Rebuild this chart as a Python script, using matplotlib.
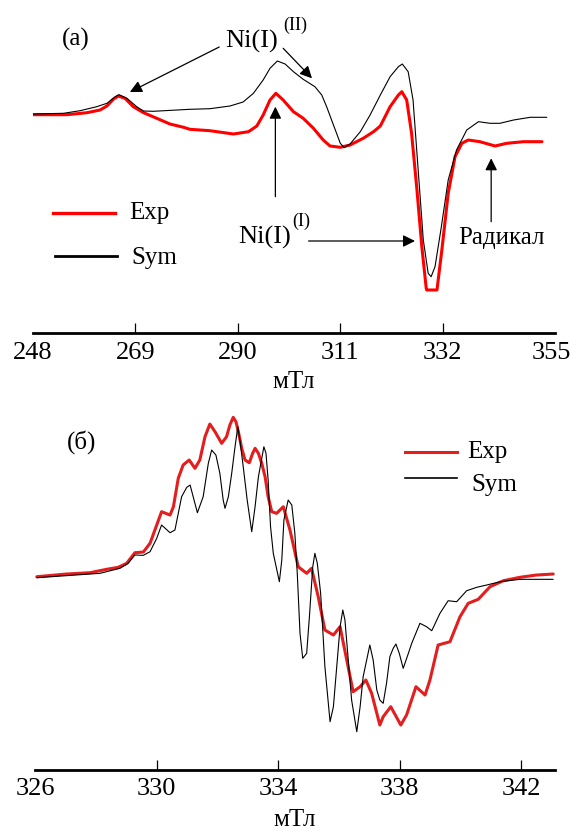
import matplotlib
matplotlib.use("Agg")
import matplotlib.pyplot as plt
from matplotlib.ticker import FixedLocator, FixedFormatter

plt.rcParams['font.family'] = ['Liberation Serif', 'DejaVu Serif']

# ---------------- panel (a) data ----------------
a_exp_B = [248.1, 255.0, 259.1, 261.8, 263.2, 264.5, 265.5, 266.9, 268.6, 270.7, 273.4, 276.1,
           278.9, 280.2, 284.3, 289.1, 292.2, 293.9, 295.2, 296.6, 297.8, 299.3, 301.4, 303.4,
           305.5, 307.5, 308.9, 311.0, 313.0, 315.7, 317.8, 319.2, 321.2, 322.9, 323.6, 324.6,
           325.6, 326.7, 327.7, 328.6, 328.7, 330.8, 331.8, 333.1, 334.5, 335.9, 337.2, 339.6,
           342.7, 345.1, 348.5, 352.3]
a_exp_I = [0.3, 0.3, 2.3, 5, 9, 15.7, 19, 16.7, 8.3, 2.3, -3.3, -9,
           -12.3, -14.3, -15.7, -19, -16.7, -11, 0, 15, 21.7, 15, 3.3, -3.3,
           -13.3, -25, -31, -32.3, -30, -23.3, -16.7, -11, 8.3, 20, 23.3, 15,
           -18.3, -75, -131.7, -173.3, -175, -175, -135, -78.3, -41.7, -28.3, -25, -26.7,
           -31, -28.3, -26.7, -26.7]

a_sym_B = [248.1, 254.3, 257.7, 261.1, 263.2, 264.9, 265.7, 267.3, 269.3, 270.7, 272.7, 280.2,
           284.3, 288.4, 291.1, 293.2, 295.2, 296.6, 298.1, 299.7, 301.4, 303.4, 305.8, 307.2,
           308.2, 309.6, 311.0, 311.8, 313.0, 315.1, 317.1, 319.2, 321.2, 322.9, 323.7, 324.9,
           325.9, 327.0, 328.0, 329.0, 329.6, 330.4, 331.7, 333.1, 334.8, 336.9, 339.3, 341.7,
           343.7, 346.5, 349.9, 353.3]
a_sym_I = [1, 1.7, 4.3, 8.3, 11.7, 18.3, 20.3, 16.7, 8.3, 4, 3.7, 5.7,
           6.3, 9, 13, 21.7, 35, 46.7, 54, 51, 43.3, 35.7, 28.3, 20,
           8.3, -10, -28.3, -32.7, -29, -16.7, 0, 20, 38.3, 48.3, 51, 43.3,
           15, -58.3, -125, -158.3, -161.7, -151.7, -111.7, -65, -35, -15, -6.7, -8.3,
           -8.3, -5, -2.3, -2.3]

a_ticks_major = [269, 290, 311, 332]
a_tick_first = 248
a_tick_last = 355

# ---------------- panel (б) data ----------------
b_exp_B = [326.05, 327.03, 327.80, 328.35, 328.73, 329.01, 329.28, 329.56, 329.78, 330.00, 330.16,
           330.44, 330.55, 330.71, 330.87, 331.07, 331.26, 331.42, 331.59, 331.75, 331.92, 332.14,
           332.30, 332.41, 332.52, 332.61, 332.69, 332.80, 332.91, 333.05, 333.16, 333.24, 333.35,
           333.46, 333.57, 333.67, 333.79, 333.95, 334.17, 334.39,
           334.66, 334.94, 335.10, 335.32, 335.54, 335.82, 336.04, 336.26, 336.47, 336.70, 336.89,
           337.08, 337.35, 337.46, 337.71, 338.04, 338.23, 338.54, 338.84, 339.00, 339.27, 339.66,
           339.99, 340.26, 340.59, 340.98, 341.42, 341.96, 342.51, 343.06]
b_exp_I = [0.3, 3, 4.3, 7.7, 9.7, 13.7, 24.3, 25, 33.7, 52, 65.3,
           62, 70.3, 98.7, 112, 117, 108.7, 117, 140.3, 153, 145.3, 133.7,
           140.3, 152, 159.7, 155.3, 145.3, 128.7, 117, 114.3, 123.7, 128.7, 123.7,
           113.7, 100.3, 80.3, 65.3, 63.7, 70.3, 47,
           10.3, 3.7, 8.7, -19.7, -53, -58, -49.7, -83, -114.7, -109.7, -103,
           -116.3, -148, -139.7, -129.7, -148, -138, -109.7, -118, -103, -68, -64.7,
           -39.7, -26.3, -22.3, -9.7, -3.7, -0.3, 2, 3]

b_sym_B = [326.05, 328.13, 328.79, 329.06, 329.28, 329.56, 329.78, 330.00, 330.16, 330.44, 330.60,
           330.82, 330.99, 331.10, 331.34, 331.53, 331.70, 331.81, 331.95, 332.08, 332.19, 332.25,
           332.36, 332.47, 332.58, 332.67, 332.74, 332.85, 332.98, 333.13, 333.24, 333.35, 333.53,
           333.60, 333.67, 333.75, 333.84, 334.04, 334.12, 334.19, 334.33, 334.45, 334.55, 334.63,
           334.72, 334.81, 334.94, 335.03, 335.14, 335.21, 335.29, 335.40, 335.54, 335.71, 335.82,
           335.93, 336.04, 336.13, 336.20, 336.31, 336.42, 336.59, 336.70, 336.80, 337.02, 337.13,
           337.25, 337.35, 337.46, 337.57, 337.68, 337.79, 337.88, 337.99, 338.12, 338.29, 338.40,
           338.67, 338.89, 339.06, 339.33, 339.60, 339.88, 340.21, 340.54, 340.87, 341.31, 341.97,
           343.06]
b_sym_I = [-0.7, 3.7, 8.7, 13.7, 22, 21.7, 25.3, 38.7, 52, 44.3, 47,
           80.3, 89.7, 92, 64.3, 80.3, 113.7, 127, 122, 103.7, 77, 68.7,
           80.3, 103.7, 130.3, 150.3, 137, 110.3, 77, 45.3, 70.3, 100.3, 130.3,
           123.7, 97, 50.3, 23.7, -4.7, 17, 57, 77, 72, 43.7, 3.7,
           -56.3, -81.3, -76.3, -39.7, 10.3, 23.7, 13.7, -16.3, -89.7, -144.7, -129.7,
           -89.7, -49.7, -33, -43, -83, -123, -154.7, -129.7, -99.7, -68, -83,
           -113, -123, -126.3, -106.3, -79.7, -71.3, -67, -76.3, -91.3, -76.3, -66.3,
           -46.3, -49.7, -53.7, -36.3, -23.7, -24.7, -13.7, -10.3, -8, -4.7, -2.3,
           -2.3]

b_ticks_major = [330, 334, 338, 342]
b_tick_first = 326

xlabel = "мТл"

fig = plt.figure(figsize=(5.7, 8.32), dpi=100)

TICKPAD = 6
TICKFS = 19


def style_axis(ax, major, first):
    for s in ['left', 'right', 'top']:
        ax.spines[s].set_visible(False)
    ax.spines['bottom'].set_linewidth(2.0)
    ax.set_yticks([])
    ax.xaxis.set_major_locator(FixedLocator(major))
    ax.xaxis.set_major_formatter(FixedFormatter([str(t) for t in major]))
    ax.xaxis.set_minor_locator(FixedLocator([first]))
    ax.xaxis.set_minor_formatter(FixedFormatter([str(first)]))
    ax.tick_params(axis='x', which='major', direction='in', length=7.5, width=0.9,
                   labelsize=TICKFS, pad=TICKPAD)
    ax.tick_params(axis='x', which='minor', direction='in', length=0,
                   labelsize=TICKFS, pad=TICKPAD)
    ax.set_facecolor('none')


lkw = dict(solid_joinstyle='round', solid_capstyle='round')

# ---------- top panel ----------
ax1 = fig.add_axes([0.0574, 0.5994, 0.9165, 0.4006])
ax1.plot(a_sym_B, a_sym_I, color='black', lw=0.8, zorder=3, **lkw)
ax1.plot(a_exp_B, a_exp_I, color='#ff0000', lw=2.2, zorder=2, **lkw)
ax1.set_xlim(248, 355)
ax1.set_ylim(-218.3, 115)
style_axis(ax1, a_ticks_major, a_tick_first)
ax1.set_xlabel(xlabel, fontsize=18, labelpad=5)
# last label nudged inwards so it stays inside the figure
ax1.annotate(str(a_tick_last), xy=(a_tick_last - 0.8, 0), xycoords=ax1.get_xaxis_transform(),
             xytext=(0, -TICKPAD), textcoords='offset points', ha='center', va='top',
             fontsize=TICKFS, annotation_clip=False)

tkw = dict(fontsize=18, va='center', clip_on=False)
akw = dict(arrowstyle='-|>', color='black', lw=0.9, mutation_scale=18, shrinkA=0, shrinkB=0)
ax1.text(256.9, 76, "(a)", ha='center', **tkw)
ax1.text(292.9, 74, "Ni(I)", ha='center', fontsize=19, va='center')
ax1.text(299.3, 89.5, "(II)", ha='left', fontsize=13, va='center')
ax1.annotate("", xy=(267.9, 23), xytext=(286.2, 68), arrowprops=akw)
ax1.annotate("", xy=(305.2, 36.7), xytext=(299.3, 66.7), arrowprops=akw)
ax1.annotate("", xy=(297.7, 8.3), xytext=(297.7, -81.7), arrowprops=akw)
ax1.text(295.4, -122.5, "Ni(I)", ha='center', fontsize=19, va='center')
ax1.text(301.2, -106.5, "(I)", ha='left', fontsize=13, va='center')
ax1.annotate("", xy=(326.3, -126), xytext=(304.5, -126), arrowprops=akw)
ax1.annotate("", xy=(341.9, -43.3), xytext=(341.9, -106.7), arrowprops=akw)
ax1.text(344.1, -123, "Радикал", ha='center', **tkw)
# legend
ax1.plot([252.2, 264.9], [-98.3, -98.3], color='#ff0000', lw=2.4)
ax1.plot([252.6, 265.3], [-140.7, -140.7], color='black', lw=2.0)
ax1.text(267.7, -98, "Exp", ha='left', **tkw)
ax1.text(268.3, -143, "Sym", ha='left', **tkw)

# ---------- bottom panel ----------
ax2 = fig.add_axes([0.0619, 0.0745, 0.9118, 0.4507])
ax2.plot(b_exp_B, b_exp_I, color='#e41e1e', lw=2.2, zorder=2, **lkw)
ax2.plot(b_sym_B, b_sym_I, color='black', lw=0.8, zorder=3, **lkw)
ax2.set_xlim(326, 343.12)
ax2.set_ylim(-193, 182)
style_axis(ax2, b_ticks_major, b_tick_first)
ax2.set_xlabel(xlabel, fontsize=18, labelpad=6)

ax2.text(327.54, 135, "(б)", ha='center', **tkw)
ax2.plot([338.18, 339.89], [124.7, 124.7], color='#e41e1e', lw=2.2)
ax2.plot([338.18, 339.89], [98.7, 98.7], color='black', lw=1.2)
ax2.text(340.22, 125, "Exp", ha='left', **tkw)
ax2.text(340.35, 92, "Sym", ha='left', **tkw)

fig.savefig("out.png", dpi=100)
